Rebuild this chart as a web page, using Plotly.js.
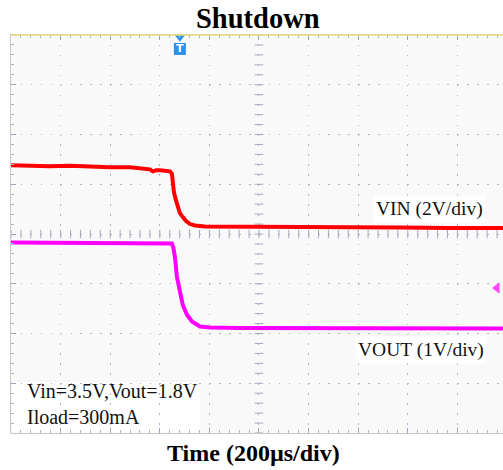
<!DOCTYPE html>
<html>
<head>
<meta charset="utf-8">
<script src="https://cdn.plot.ly/plotly-3.0.1.min.js"></script>
<style>html,body{margin:0;padding:0;background:#fff;}#chart{width:503px;height:470px;}</style>
</head>
<body>
<div id="chart"></div>
<script>
// Time in microseconds (200 us/div), values in screen divisions (8 div tall)
const vinTime = [0, 77, 157, 238, 318, 399, 480, 540, 560, 572, 585, 601, 621, 641, 649, 653, 657, 665, 673, 681, 693, 706, 722, 742, 782, 883, 1004, 1165, 1367, 1568, 1770, 1984];
const vinDiv  = [5.38, 5.37, 5.36, 5.37, 5.35, 5.34, 5.34, 5.32, 5.30, 5.26, 5.28, 5.28, 5.28, 5.26, 5.21, 4.99, 4.84, 4.68, 4.54, 4.42, 4.34, 4.26, 4.20, 4.17, 4.15, 4.15, 4.14, 4.14, 4.13, 4.13, 4.12, 4.12];

const voutTime = [0, 157, 359, 560, 649, 655, 661, 669, 681, 693, 710, 730, 762, 802, 923, 1165, 1568, 1984];
const voutDiv  = [3.83, 3.83, 3.82, 3.82, 3.81, 3.72, 3.54, 3.14, 2.81, 2.57, 2.37, 2.24, 2.14, 2.12, 2.11, 2.11, 2.11, 2.10];

const triggerTime = 681;
const ch2MarkerTime = 1960;
const ch2MarkerLevel = 2.915;

const titleText = 'Shutdown';
const xTitleText = 'Time (200µs/div)';
const vinLabel = 'VIN (2V/div)';
const voutLabel = 'VOUT (1V/div)';
const condLines = ['Vin=3.5V,Vout=1.8V', 'Iload=300mA'];

const xMax = 1984;
const divUs = 200;
const nDivY = 8;

// center-cross minor tick positions
const crossXticks = [];
for (let t = 0; t <= xMax; t += divUs / 5) crossXticks.push(t);
const crossYticks = [];
for (let v = 0; v <= nDivY + 1e-9; v += 0.2) crossYticks.push(+v.toFixed(2));

const serif = 'Liberation Serif, Times New Roman, serif';

const traces = [
  { x: crossXticks, y: crossXticks.map(() => 4), mode: 'markers', hoverinfo: 'skip',
    marker: { symbol: 'line-ns', size: 6, line: { width: 1, color: '#a4a8bc' } }, showlegend: false },
  { x: crossYticks.map(() => 1000), y: crossYticks, mode: 'markers', hoverinfo: 'skip',
    marker: { symbol: 'line-ew', size: 6, line: { width: 1, color: '#a4a8bc' } }, showlegend: false },
  { x: vinTime, y: vinDiv, mode: 'lines', line: { color: '#ff0000', width: 4 }, showlegend: false },
  { x: voutTime, y: voutDiv, mode: 'lines', line: { color: '#ff00ff', width: 4 }, showlegend: false },
  { x: [triggerTime], y: [7.955], mode: 'markers', cliponaxis: false,
    marker: { symbol: 'triangle-down', size: 9, color: '#2a90f0' }, showlegend: false },
  { x: [triggerTime], y: [7.72], mode: 'markers+text', cliponaxis: false, text: ['T'],
    textposition: 'middle center', textfont: { color: '#ffffff', size: 11, family: 'DejaVu Sans', weight: 'bold' },
    marker: { symbol: 'square', size: 12, color: '#2a90f0' }, showlegend: false },
  { x: [ch2MarkerTime], y: [ch2MarkerLevel], mode: 'markers', cliponaxis: false,
    marker: { symbol: 'triangle-left', size: 10, color: '#ff44ff' }, showlegend: false }
];

const layout = {
  width: 503, height: 470,
  margin: { l: 11, r: 0, t: 35, b: 37 },
  paper_bgcolor: '#ffffff',
  plot_bgcolor: '#f9f9f9',
  showlegend: false,
  xaxis: {
    range: [0, xMax], dtick: divUs, tick0: 0, showticklabels: false,
    showgrid: true, gridcolor: '#b4b4b4', griddash: '1.5px,8.45px', gridwidth: 1,
    zeroline: false, showline: true, linecolor: '#c8c8c8', mirror: 'ticks',
    ticks: 'inside', ticklen: 5, tickcolor: '#a0a4b8',
    minor: { dtick: divUs / 5, ticks: 'inside', ticklen: 3, tickcolor: '#b0b4c4', showgrid: false }
  },
  yaxis: {
    range: [0, nDivY], dtick: 1, tick0: 0, showticklabels: false,
    showgrid: true, gridcolor: '#b4b4b4', griddash: '1.5px,8.42px', gridwidth: 1,
    zeroline: false, showline: true, linecolor: '#c8c8c8', mirror: false,
    ticks: 'inside', ticklen: 5, tickcolor: '#a0a4b8',
    minor: { dtick: 0.2, ticks: 'inside', ticklen: 3, tickcolor: '#b0b4c4', showgrid: false }
  },
  shapes: [
    { type: 'line', xref: 'paper', yref: 'paper', x0: 0, x1: 1, y0: 1, y1: 1,
      line: { color: '#e8dc78', width: 1.5 }, layer: 'above' },
    { type: 'rect', xref: 'paper', yref: 'paper', x0: 0.002, x1: 0.384, y0: 0.003, y1: 0.128,
      fillcolor: '#ffffff', line: { width: 0 }, layer: 'between' }
  ],
  annotations: [
    { text: titleText, xref: 'paper', yref: 'paper', x: 0.502, y: 1.0427, xanchor: 'center', yanchor: 'middle',
      showarrow: false, font: { family: serif, size: 28.5, color: '#000', weight: 'bold' } },
    { text: xTitleText, xref: 'paper', yref: 'paper', x: 0.493, y: -0.05, xanchor: 'center', yanchor: 'middle',
      showarrow: false, font: { family: serif, size: 24, color: '#000', weight: 'bold' } },
    { text: vinLabel, xref: 'paper', yref: 'paper', x: 0.851, y: 0.563, xanchor: 'center', yanchor: 'middle',
      showarrow: false, bgcolor: '#ffffff', borderpad: 2, font: { family: serif, size: 19.5, color: '#111' } },
    { text: voutLabel, xref: 'paper', yref: 'paper', x: 0.834, y: 0.2085, xanchor: 'center', yanchor: 'middle',
      showarrow: false, bgcolor: '#ffffff', borderpad: 2, font: { family: serif, size: 19.5, color: '#111' } },
    { text: condLines.join('<br>'), xref: 'paper', yref: 'paper', x: 0.0285, y: 0.0729, xanchor: 'left', yanchor: 'middle',
      align: 'left', showarrow: false, font: { family: serif, size: 20, color: '#111' } }
  ]
};

Plotly.newPlot('chart', traces, layout, { staticPlot: true, displayModeBar: false });
</script>
</body>
</html>
